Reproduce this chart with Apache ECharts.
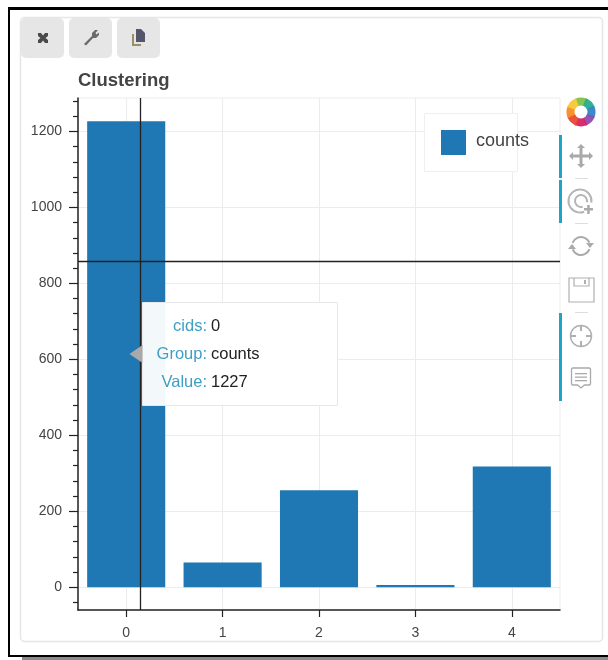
<!DOCTYPE html>
<html>
<head>
<meta charset="utf-8">
<style>html,body{margin:0;padding:0;background:#fff}#c{width:608px;height:660px}</style>
<script src="https://cdn.jsdelivr.net/npm/echarts@6/dist/echarts.min.js"></script>
</head>
<body>
<div id="c"></div>
<script>
const categories = ['0', '1', '2', '3', '4'];
const counts = [1227, 65, 255, 6, 318];
const crosshairX = [0.155];
const crosshairY = [858];
const seriesName = 'counts';
const titleText = 'Clustering';
const tooltipKeys = ['cids:', 'Group:', 'Value:'];
const tooltipVals = ['0', 'counts', '1227'];
const xTicks = [0, 1, 2, 3, 4];
const yTicks = [0, 200, 400, 600, 800, 1000, 1200];
const yMinorTicks = [-40, 40, 80, 120, 160, 240, 280, 320, 360, 440, 480, 520, 560, 640, 680, 720, 760, 840, 880, 920, 960, 1040, 1080, 1120, 1160, 1240, 1280];

const FONT = '"Liberation Sans", Arial, sans-serif';
const G = { l: 78, t: 98, w: 482, h: 512 };
const chart = echarts.init(document.getElementById('c'), null, { renderer: 'canvas' });

const rect = (x, y, w, h, fill, extra) => ({ type: 'rect', shape: { x, y, width: w, height: h, r: (extra && extra.r) || 0 }, style: { fill }, silent: true, z: (extra && extra.z) || 0 });
const txt = (x, y, text, fill, size, align, extra) => ({ type: 'text', x, y, style: { text, fill, font: (extra && extra.weight ? extra.weight + ' ' : '') + size + 'px ' + FONT, textAlign: align, textVerticalAlign: 'middle' }, silent: true, z: 20 });
const poly = (pts, dx, dy, style) => ({ type: 'polygon', shape: { points: pts.map(p => [p[0] + dx, p[1] + dy]) }, style, silent: true, z: 20 });

const wheelColors = ['#7bc043', '#23a78c', '#2e7fc4', '#8e44ad', '#d81b60', '#e8432b', '#f58a1f', '#f7c531'];
const wheel = wheelColors.map((c, i) => ({
  type: 'sector', silent: true, z: 20,
  shape: { cx: 581, cy: 112, r0: 6, r: 14.5, startAngle: -Math.PI / 2 - Math.PI / 8 + i * Math.PI / 4 - 0.05, endAngle: -Math.PI / 2 - Math.PI / 8 + (i + 1) * Math.PI / 4 + 0.05 },
  style: { fill: c, opacity: 0.92 }
}));

const graphics = [
  rect(8, 7, 600, 3, '#000'),
  rect(8, 7, 2, 650, '#000'),
  rect(8, 655, 600, 2, '#000'),
  rect(22, 657, 586, 3, '#8a8a8a'),
  { type: 'rect', shape: { x: 20.5, y: 17.5, width: 582, height: 624, r: 4 }, style: { fill: 'none', stroke: '#e6e6e6', lineWidth: 1.5 }, silent: true, z: 0 },
  rect(21, 18, 43, 40, '#e6e6e6', { r: 5 }),
  rect(69, 18, 43, 40, '#e6e6e6', { r: 5 }),
  rect(117, 18, 43, 40, '#e6e6e6', { r: 5 }),
  poly([[0,0],[3,0],[5,2.5],[7,0],[10,0],[10,3],[7.5,5],[10,7],[10,10],[7,10],[5,7.5],[3,10],[0,10],[0,7],[2.5,5],[0,3]], 38, 33, { fill: '#4a4a4a' }),
  poly([[0,14],[8,6],[8,3],[11,0],[14,0],[11.5,3],[12.5,4.5],[15,2.5],[15,5],[12,8],[9,8],[2,15.5]], 84, 30, { fill: '#6a6a6a' }),
  poly([[0,3],[0,15],[9,15],[9,13],[2,13],[2,3]], 132, 31, { fill: '#9a8f66' }),
  poly([[0,0],[5,0],[9,4],[9,13],[0,13]], 136, 29, { fill: '#55566a' }),
  txt(78, 81, titleText, '#444', 18.5, 'left', { weight: 'bold' }),
  { type: 'rect', shape: { x: 424.5, y: 113.5, width: 93, height: 58 }, style: { fill: '#fff', stroke: '#efefef', lineWidth: 1 }, silent: true, z: 15 },
  rect(441, 130, 25, 25, '#1f77b4', { z: 16 }),
  txt(476, 141, seriesName, '#444', 18, 'left'),
  ...wheel,
  { type: 'circle', shape: { cx: 581, cy: 112, r: 6.5 }, style: { fill: '#fff' }, silent: true, z: 21 },
  rect(559, 135, 3, 43, '#1ea4c4', { z: 20 }),
  rect(559, 180, 3, 43, '#1ea4c4', { z: 20 }),
  rect(559, 313, 3, 88, '#1ea4c4', { z: 20 }),
  rect(575, 178, 13, 1, '#ddd', { z: 20 }),
  rect(575, 223, 13, 1, '#ddd', { z: 20 }),
  rect(575, 312, 13, 1, '#ddd', { z: 20 }),
  poly([[12,0],[16,4],[13.5,4],[13.5,10.5],[20,10.5],[20,8],[24,12],[20,16],[20,13.5],[13.5,13.5],[13.5,20],[16,20],[12,24],[8,20],[10.5,20],[10.5,13.5],[4,13.5],[4,16],[0,12],[4,8],[4,10.5],[10.5,10.5],[10.5,4],[8,4]], 569, 144, { fill: '#aaa' }),
  { type: 'arc', shape: { cx: 580, cy: 201, r: 11.5, startAngle: 0.15, endAngle: 1.2, clockwise: false }, style: { stroke: '#b5b5b5', fill: 'none', lineWidth: 2 }, silent: true, z: 20 },
  { type: 'arc', shape: { cx: 581, cy: 201, r: 6, startAngle: 0.2, endAngle: 1.3, clockwise: false }, style: { stroke: '#b5b5b5', fill: 'none', lineWidth: 2 }, silent: true, z: 20 },
  rect(584, 208, 9, 2.5, '#aaa', { z: 20 }),
  rect(587.2, 205, 2.5, 9, '#aaa', { z: 20 }),
  { type: 'arc', shape: { cx: 581, cy: 246, r: 9, startAngle: 3.5, endAngle: 5.9 }, style: { stroke: '#aaa', fill: 'none', lineWidth: 2 }, silent: true, z: 20 },
  { type: 'arc', shape: { cx: 581, cy: 246, r: 9, startAngle: 0.35, endAngle: 2.75 }, style: { stroke: '#aaa', fill: 'none', lineWidth: 2 }, silent: true, z: 20 },
  poly([[0,0],[8,0],[4,5]], 586, 243, { fill: '#aaa' }),
  poly([[0,5],[8,5],[4,0]], 568, 244, { fill: '#aaa' }),
  { type: 'rect', shape: { x: 569, y: 278, width: 25, height: 24 }, style: { fill: '#fff', stroke: '#b0b0b0', lineWidth: 1.2 }, silent: true, z: 20 },
  { type: 'polyline', shape: { points: [[574, 278], [574, 286], [589, 286], [589, 278]] }, style: { stroke: '#b0b0b0', fill: 'none', lineWidth: 1.2 }, silent: true, z: 20 },
  rect(584, 280, 2, 4, '#b0b0b0', { z: 20 }),
  { type: 'circle', shape: { cx: 581, cy: 336, r: 10.5 }, style: { fill: 'none', stroke: '#b0b0b0', lineWidth: 1.5 }, silent: true, z: 20 },
  rect(580, 325, 2, 6, '#b0b0b0', { z: 20 }),
  rect(580, 341, 2, 6, '#b0b0b0', { z: 20 }),
  rect(570, 335, 6, 2, '#b0b0b0', { z: 20 }),
  rect(586, 335, 6, 2, '#b0b0b0', { z: 20 }),
  poly([[1,0],[18,0],[19,1],[19,16],[18,17],[13,17],[9.5,20],[6,17],[1,17],[0,16],[0,1]], 571.5, 368, { fill: '#fff', stroke: '#aaa', lineWidth: 1.3 }),
  rect(575, 373, 12, 1.3, '#aaa', { z: 21 }),
  rect(575, 376.5, 12, 1.3, '#aaa', { z: 21 }),
  rect(575, 380, 12, 1.3, '#aaa', { z: 21 }),
  { type: 'rect', shape: { x: 142.5, y: 302.5, width: 195, height: 103 }, style: { fill: 'rgba(255,255,255,0.95)', stroke: '#e8e8e8', lineWidth: 1 }, silent: true, z: 15 },
  poly([[13,0],[13,18],[0,9]], 129.5, 345, { fill: '#a9a9a9' }),
  ...tooltipKeys.map((k, i) => txt(207, 326 + i * 28, k, '#3f9ec4', 16.5, 'right')),
  ...tooltipVals.map((v, i) => txt(211, 326 + i * 28, v, '#222', 16.5, 'left'))
];

const Y_RANGE = { min: -60, max: 1288 };
chart.setOption({
  animation: false,
  backgroundColor: '#fff',
  grid: { left: G.l, top: G.t, width: G.w, height: G.h, show: true, borderColor: '#ececec', borderWidth: 1, backgroundColor: 'transparent' },
  xAxis: [
    {
      type: 'category', data: categories, boundaryGap: true, position: 'bottom',
      axisLine: { onZero: false, lineStyle: { color: '#222', width: 1.5 } },
      axisTick: { show: true, interval: 0, alignWithLabel: true, length: 7, lineStyle: { color: '#222', width: 1.2 } },
      axisLabel: { color: '#444', fontSize: 14, fontFamily: FONT, margin: 16 },
      splitLine: { show: false }
    },
    {
      type: 'value', min: -0.5, max: 4.5, position: 'bottom',
      axisLine: { show: false, onZero: false },
      axisTick: { show: false, customValues: xTicks },
      axisLabel: { show: false },
      splitLine: { show: true, lineStyle: { color: '#ececec', width: 1 } }
    }
  ],
  yAxis: [
    {
      type: 'value', position: 'left', min: Y_RANGE.min, max: Y_RANGE.max,
      axisLine: { show: true, onZero: false, lineStyle: { color: '#222', width: 1.5 } },
      axisTick: { show: true, length: 9, lineStyle: { color: '#222', width: 1.2 }, customValues: yTicks },
      axisLabel: { color: '#444', fontSize: 14, fontFamily: FONT, margin: 16, customValues: yTicks, formatter: v => String(v) },
      splitLine: { show: true, lineStyle: { color: '#ececec', width: 1 } }
    },
    {
      type: 'value', position: 'left', min: Y_RANGE.min, max: Y_RANGE.max,
      axisLine: { show: false, onZero: false },
      axisTick: { show: true, length: 5, lineStyle: { color: '#222', width: 1.2 }, customValues: yMinorTicks },
      axisLabel: { show: false },
      splitLine: { show: false }
    }
  ],
  series: [
    {
      name: seriesName, type: 'bar', data: counts, barWidth: '81%', xAxisIndex: 0, yAxisIndex: 0, z: 3,
      itemStyle: { color: '#1f77b4' }
    },
    {
      type: 'line', xAxisIndex: 1, yAxisIndex: 0, data: [], silent: true, symbol: 'none', z: 5,
      markLine: {
        silent: true, symbol: 'none', animation: false, label: { show: false },
        lineStyle: { color: '#222', width: 1.3, type: 'solid' },
        data: [{ xAxis: crosshairX[0] }, { yAxis: crosshairY[0] }]
      }
    }
  ],
  graphic: { elements: graphics }
});
</script>
</body>
</html>
